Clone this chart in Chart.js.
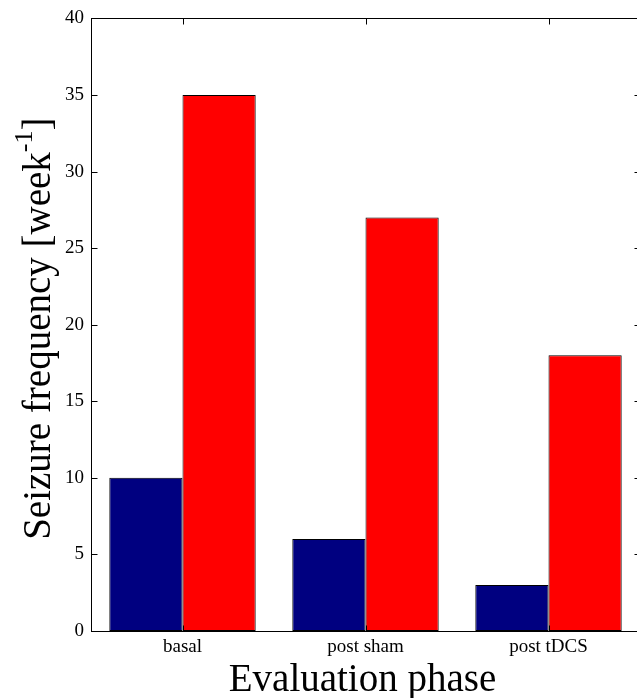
<!DOCTYPE html>
<html>
<head>
<meta charset="utf-8">
<script src="https://cdn.jsdelivr.net/npm/chart.js@4/dist/chart.umd.min.js"></script>
<style>
    html, body { margin: 0; padding: 0; background: #fff; overflow: hidden; }
    #wrap { width: 637px; height: 698px; overflow: hidden; }
</style>
</head>
<body>
<div id="wrap"><canvas id="chart" width="645" height="698"></canvas></div>
<script>
var categories = ['basal', 'post sham', 'post tDCS'];
var seriesBlue = [10, 6, 3];
var seriesRed = [35, 27, 18];
var yTicks = [0, 5, 10, 15, 20, 25, 30, 35, 40];

var SERIF = '"Liberation Serif", "DejaVu Serif", serif';

// box, inward ticks and both axis titles, drawn the way the matlab figure looks
var frameAndTitles = {
    id: 'frameAndTitles',
    afterDraw: function (chart) {
        var ctx = chart.ctx;
        var area = chart.chartArea;
        var xs = chart.scales.x;
        var ys = chart.scales.y;
        var tick = 6;

        ctx.save();
        ctx.strokeStyle = '#000';
        ctx.lineWidth = 1;
        var l = Math.round(area.left) + 0.5, r = Math.round(area.right) + 0.5;
        var t = Math.round(area.top) + 0.5, b = Math.round(area.bottom) + 0.5;
        ctx.strokeRect(l, t, r - l, b - t);

        ctx.beginPath();
        yTicks.forEach(function (v) {
            var y = Math.round(ys.getPixelForValue(v)) + 0.5;
            ctx.moveTo(l, y); ctx.lineTo(l + tick, y);
            ctx.moveTo(r, y); ctx.lineTo(r - tick, y);
        });
        categories.forEach(function (c, i) {
            var x = Math.round(xs.getPixelForValue(i)) + 0.5;
            ctx.moveTo(x, b); ctx.lineTo(x, b - tick);
            ctx.moveTo(x, t); ctx.lineTo(x, t + tick);
        });
        ctx.stroke();

        ctx.fillStyle = '#000';

        // x title
        ctx.font = '39px ' + SERIF;
        ctx.textAlign = 'center';
        ctx.textBaseline = 'alphabetic';
        ctx.fillText('Evaluation phase', (area.left + area.right) / 2 - 3, 691);

        // y title with superscript
        var big = '39px ' + SERIF;
        var small = '26px ' + SERIF;
        var p1 = 'Seizure frequency [week';
        var p2 = '-1';
        var p3 = ']';
        ctx.font = big;
        var w1 = ctx.measureText(p1).width;
        var w3 = ctx.measureText(p3).width;
        ctx.font = small;
        var w2 = ctx.measureText(p2).width;
        var total = w1 + w2 + w3;

        ctx.translate(50, (area.top + area.bottom) / 2 + 4);
        ctx.rotate(-Math.PI / 2);
        ctx.textAlign = 'left';
        var x0 = -total / 2;
        ctx.font = big;
        ctx.fillText(p1, x0, 0);
        ctx.font = small;
        ctx.fillText(p2, x0 + w1, -18);
        ctx.font = big;
        ctx.fillText(p3, x0 + w1 + w2, 0);
        ctx.restore();
    }
};

new Chart(document.getElementById('chart'), {
    type: 'bar',
    data: {
        labels: categories,
        datasets: [{
            data: seriesBlue,
            backgroundColor: '#000080',
            borderColor: '#000',
            borderWidth: 1,
            borderSkipped: false
        }, {
            data: seriesRed,
            backgroundColor: '#ff0000',
            borderColor: '#000',
            borderWidth: 1,
            borderSkipped: false
        }]
    },
    options: {
        responsive: false,
        animation: false,
        layout: {
            padding: { top: 18, right: 5, left: 0, bottom: 0 }
        },
        datasets: {
            bar: { categoryPercentage: 0.8, barPercentage: 1.0 }
        },
        plugins: {
            legend: { display: false },
            tooltip: { enabled: false }
        },
        scales: {
            x: {
                grid: { display: false, drawTicks: false },
                border: { display: false },
                ticks: {
                    color: '#000',
                    padding: 5,
                    font: { family: SERIF, size: 19 }
                },
                afterFit: function (scale) { scale.height = 67; }
            },
            y: {
                min: 0,
                max: 40,
                grid: { display: false, drawTicks: false },
                border: { display: false },
                ticks: {
                    stepSize: 5,
                    color: '#000',
                    padding: 7,
                    font: { family: SERIF, size: 19 }
                },
                afterFit: function (scale) { scale.width = 91; }
            }
        }
    },
    plugins: [frameAndTitles]
});
</script>
</body>
</html>
